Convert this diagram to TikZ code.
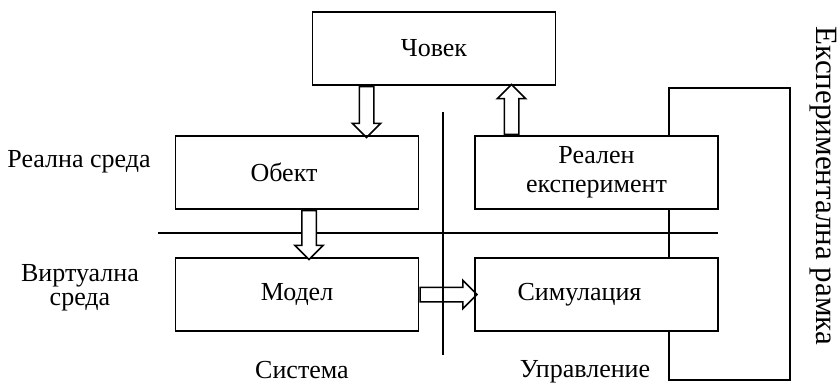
\documentclass[tikz,border=0pt]{standalone}
\usepackage{fontspec}
\setmainfont{Liberation Serif}
\usetikzlibrary{shapes.arrows}
\begin{document}
\begin{tikzpicture}[x=1pt,y=-1pt,
  box/.style={draw,line width=1.6pt,minimum width=243pt,minimum height=73pt,inner sep=0pt},
  blockarrow/.style={single arrow,draw,line width=1.5pt,inner xsep=0pt,inner ysep=6.5pt,
    single arrow head extend=7pt,single arrow tip angle=90,minimum width=0pt,anchor=tail},
  font=\fontsize{26}{29}\selectfont]
\useasboundingbox (0,0) rectangle (839,383);
% boxes
\node[box] (chovek) at (434,48.5) {Човек};
\node[box,label={[xshift=-13pt]center:Обект}] (obekt) at (297,172.5) {};
\node[box,align=center] (realexp) at (596.5,172.5) {Реален\\експеримент};
\node[box] (model) at (297,294.5) {Модел};
\node[box,label={[xshift=-17pt]center:Симулация}] (sim) at (596.5,294.5) {};
% separators
\draw[line width=1.6pt] (443,112) -- (443,355);
\draw[line width=1.6pt] (158,233) -- (718,233);
% frame
\draw[line width=1.6pt] ([xshift=72.5pt]realexp.north) |- (790,88) -- (790,380) -| ([xshift=72.5pt]sim.south);
\draw[line width=1.6pt] ([xshift=72.5pt]realexp.south) -- ([xshift=72.5pt]sim.north);
% block arrows
\node[blockarrow,rotate=-90,minimum height=51pt] (a1) at ([xshift=-67.5pt]chovek.south) {};
\node[blockarrow,rotate=90,minimum height=50pt] (a2) at ([xshift=-85pt]realexp.north) {};
\node[blockarrow,rotate=-90,minimum height=49pt,fill=white] (a3) at ([xshift=12pt]obekt.south) {};
\node[blockarrow,minimum height=57pt] (a4) at (model.east) {};
% labels
\node (real) at (79,162) {Реална среда};
\node[align=center,font=\fontsize{26}{24}\selectfont] (virt) at (80,288) {Виртуална\\среда};
\node (sistema) at (302,370) {Система};
\node (upr) at (585,372) {Управление};
\node[rotate=-90,font=\fontsize{31}{31}\selectfont,inner sep=0pt] (ramka) at (823,186) {Експериментална рамка};
\end{tikzpicture}
\end{document}
